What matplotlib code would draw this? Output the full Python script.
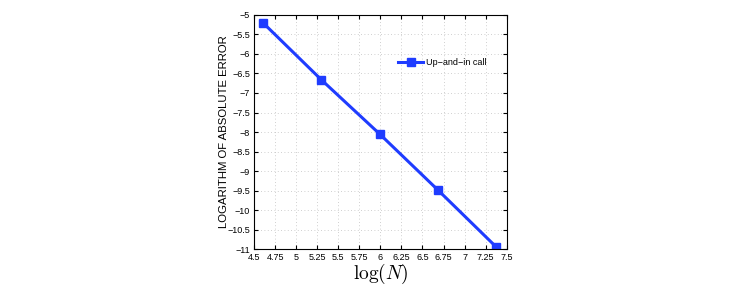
import numpy as np
import matplotlib
matplotlib.use("Agg")
import matplotlib.pyplot as plt

# data
log_n = [4.605, 5.298, 5.991, 6.685, 7.378]
log_err = [-5.2, -6.66, -8.05, -9.49, -10.95]
xticks = [4.5, 4.75, 5, 5.25, 5.5, 5.75, 6, 6.25, 6.5, 6.75, 7, 7.25, 7.5]
yticks = [-11, -10.5, -10, -9.5, -9, -8.5, -8, -7.5, -7, -6.5, -6, -5.5, -5]

plt.rcParams['mathtext.fontset'] = 'cm'
plt.rcParams['font.family'] = ['Liberation Sans', 'DejaVu Sans']

fig = plt.figure(figsize=(7.54, 2.87), dpi=100)
ax = fig.add_axes([0.337, 0.132, 0.335, 0.816])

ax.plot(log_n, log_err, '-s', color='#1f3cff', lw=2.2, ms=6,
        label='Up\u2212and\u2212in call')

ax.set_xlim(4.5, 7.5)
ax.set_ylim(-11, -5)
ax.set_xticks(xticks)
ax.set_yticks(yticks)
ax.set_xticklabels([('%g' % t).replace('-', '\u2212') for t in xticks])
ax.set_yticklabels([('%g' % t).replace('-', '\u2212') for t in yticks])
ax.tick_params(direction='in', top=True, right=True, labelsize=6.5, length=3, pad=3)
ax.grid(True, linestyle=(0, (1, 3)), color='#c0c0c0', lw=0.6)
for s in ax.spines.values():
    s.set_linewidth(0.8)

ax.set_xlabel(r'$\log(N)$', fontsize=14, labelpad=0)
ax.set_ylabel('LOGARITHM OF ABSOLUTE ERROR', fontsize=8.2, labelpad=-1)

ax.legend(loc='upper right', bbox_to_anchor=(0.95, 0.85), frameon=False,
          fontsize=6.5, handlelength=2.7, handletextpad=0.3)

fig.savefig('out.png', dpi=100)
